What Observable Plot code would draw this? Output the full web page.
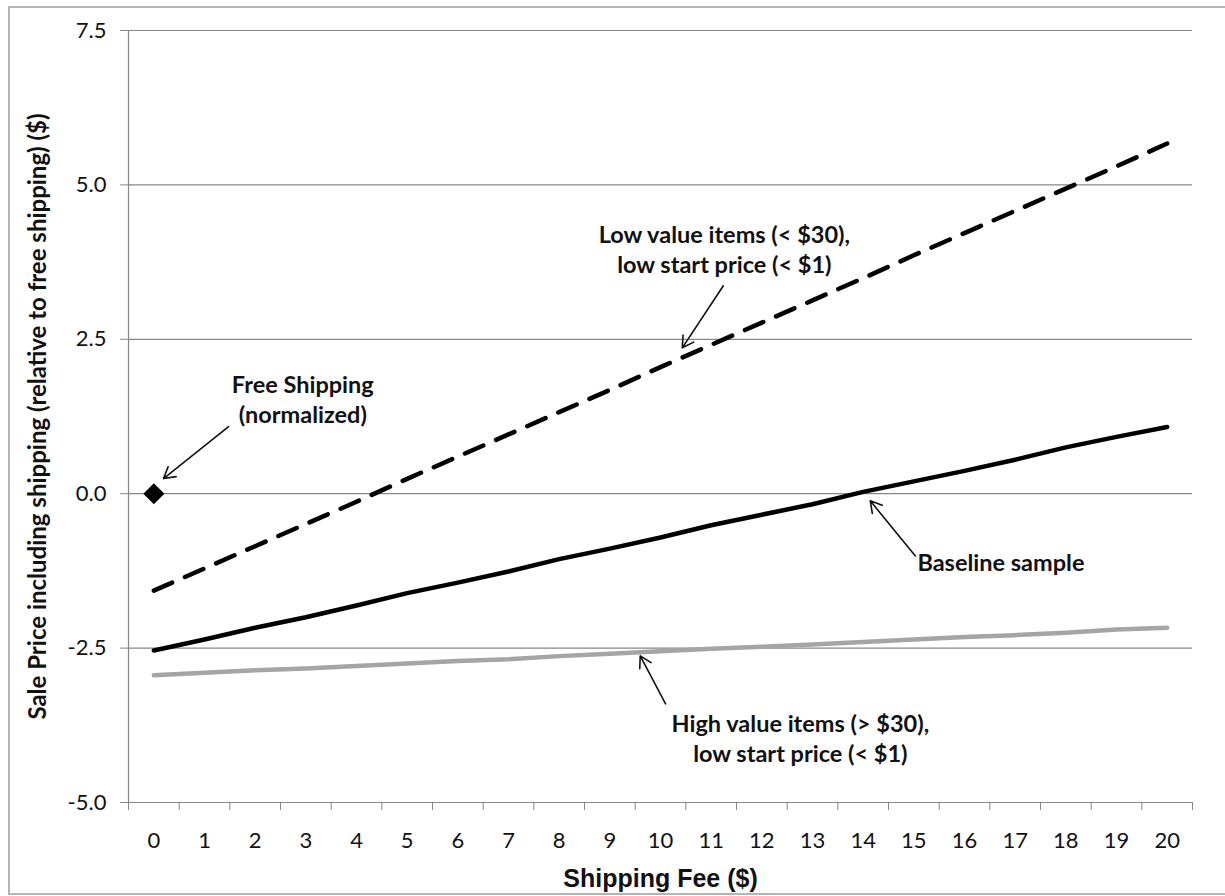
<!DOCTYPE html>
<html>
<head>
<meta charset="utf-8">
<script src="https://cdn.jsdelivr.net/npm/d3@7"></script>
<script src="https://cdn.jsdelivr.net/npm/@observablehq/plot@0.6"></script>
<style>
  html, body { margin: 0; padding: 0; background: #fff; }
  #wrap { position: relative; width: 1225px; height: 896px; overflow: hidden; }
  #border { position: absolute; left: 8px; top: 6px; width: 1300px; height: 889px; border: 2px solid #b4b4b4; box-sizing: border-box; pointer-events: none; }
</style>
</head>
<body>
<div id="wrap"><div id="border"></div></div>
<script>
// ---- data ----
const shippingFees = [0,1,2,3,4,5,6,7,8,9,10,11,12,13,14,15,16,17,18,19,20];
const baseline = [-2.54,-2.36,-2.17,-2.00,-1.81,-1.61,-1.44,-1.26,-1.06,-0.89,-0.71,-0.51,-0.34,-0.17,0.03,0.20,0.37,0.55,0.75,0.92,1.08];
const lowValue = [-1.57,-1.21,-0.85,-0.49,-0.13,0.24,0.60,0.96,1.32,1.68,2.05,2.41,2.77,3.13,3.49,3.86,4.22,4.58,4.94,5.30,5.67];
const highValue = [-2.94,-2.90,-2.86,-2.83,-2.79,-2.75,-2.71,-2.68,-2.63,-2.59,-2.55,-2.51,-2.48,-2.44,-2.40,-2.36,-2.32,-2.29,-2.25,-2.20,-2.17];
const freeShipping = [{fee: 0, price: 0}];
const yTicks = [-5, -2.5, 0, 2.5, 5, 7.5];
const xTitle = "Shipping Fee ($)";
const yTitle = "Sale Price including shipping (relative to free shipping) ($)";

const toRows = (vals) => shippingFees.map((f, i) => ({fee: f, price: vals[i]}));

const annFont = "Lato, 'Open Sans', sans-serif";
const gridColor = "#878787";
const textColor = "#111";
const annSize = 23.5;

const chart = Plot.plot({
  width: 1225,
  height: 896,
  marginLeft: 128,
  marginRight: 33,
  marginTop: 30,
  marginBottom: 94,
  style: {background: "#fff", fontFamily: annFont, color: textColor},
  x: {type: "linear", domain: [-0.5, 20.5]},
  y: {type: "linear", domain: [-5, 7.5]},
  marks: [
    Plot.gridY(yTicks, {stroke: gridColor, strokeOpacity: 1, strokeWidth: 1.2}),
    Plot.ruleX([-0.5], {y1: -5, y2: 7.5, stroke: gridColor, strokeWidth: 1.2}),
    Plot.axisY(yTicks, {tickFormat: d => d.toFixed(1), tickSize: 8, tickPadding: 14, fontSize: 22, stroke: gridColor, fill: textColor, label: null, fontFamily: annFont}),
    Plot.axisX(d3.range(-0.5, 21, 1), {tickFormat: () => "", tickSize: 8, stroke: gridColor, label: null}),
    Plot.axisX(shippingFees, {tickSize: 0, tickPadding: 30, fontSize: 22, fill: textColor, label: null, fontFamily: annFont}),
    Plot.text([xTitle], {frameAnchor: "bottom", dy: 76, fontSize: 25, fontWeight: "bold", fontFamily: "'Liberation Sans', Arial, sans-serif", fill: textColor, lineAnchor: "middle"}),
    Plot.text([yTitle], {frameAnchor: "left", dx: -90, rotate: -90, textAnchor: "middle", lineAnchor: "middle", fontSize: 24, fontWeight: "bold", fontFamily: annFont, fill: textColor}),
    Plot.line(toRows(highValue), {x: "fee", y: "price", stroke: "#a5a5a5", strokeWidth: 4.5}),
    Plot.line(toRows(baseline), {x: "fee", y: "price", stroke: "#000", strokeWidth: 4.5}),
    Plot.line(toRows(lowValue), {x: "fee", y: "price", stroke: "#000", strokeWidth: 4.5, strokeDasharray: "20,14"}),
    Plot.dot(freeShipping, {x: "fee", y: "price", symbol: "diamond2", r: 9.5, fill: "#000", stroke: "none"}),
    // annotations
    Plot.arrow([{x1: 1.475, y1: 1.088, x2: 0.191, y2: 0.245}], {x1: "x1", y1: "y1", x2: "x2", y2: "y2", stroke: "#111", strokeWidth: 1.6, headLength: 12}),
    Plot.arrow([{x1: 11.24, y1: 3.366, x2: 10.43, y2: 2.362}], {x1: "x1", y1: "y1", x2: "x2", y2: "y2", stroke: "#111", strokeWidth: 1.6, headLength: 12}),
    Plot.arrow([{x1: 15.03, y1: -1.009, x2: 14.14, y2: -0.115}], {x1: "x1", y1: "y1", x2: "x2", y2: "y2", stroke: "#111", strokeWidth: 1.6, headLength: 12}),
    Plot.arrow([{x1: 10.10, y1: -3.402, x2: 9.60, y2: -2.626}], {x1: "x1", y1: "y1", x2: "x2", y2: "y2", stroke: "#111", strokeWidth: 1.6, headLength: 12}),
    Plot.text(["Free Shipping\n(normalized)"], {x: 2.94, y: 1.537, fontSize: annSize, fontWeight: "bold", fontFamily: annFont, fill: textColor, lineHeight: 1.28, lineAnchor: "middle"}),
    Plot.text(["Low value items (< $30),\nlow start price (< $1)"], {x: 11.26, y: 3.973, fontSize: annSize, fontWeight: "bold", fontFamily: annFont, fill: textColor, lineHeight: 1.28, lineAnchor: "middle"}),
    Plot.text(["Baseline sample"], {x: 15.07, y: -1.135, fontSize: annSize, fontWeight: "bold", fontFamily: annFont, fill: textColor, textAnchor: "start", lineAnchor: "middle"}),
    Plot.text(["High value items (> $30),\nlow start price (< $1)"], {x: 12.76, y: -3.951, fontSize: annSize, fontWeight: "bold", fontFamily: annFont, fill: textColor, lineHeight: 1.28, lineAnchor: "middle"})
  ]
});
document.getElementById("wrap").prepend(chart);
</script>
</body>
</html>
